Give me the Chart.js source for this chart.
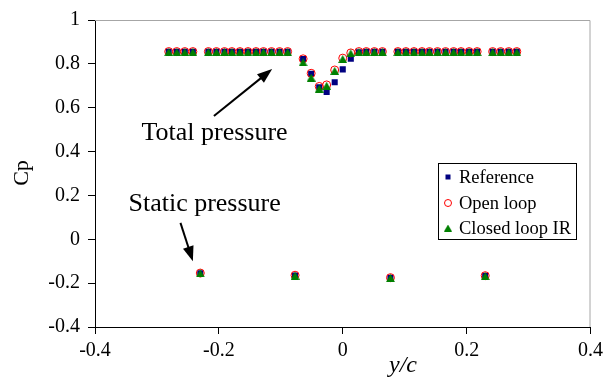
<!DOCTYPE html>
<html>
<head>
<meta charset="utf-8">
<script src="https://cdn.jsdelivr.net/npm/chart.js@4/dist/chart.umd.min.js"></script>
<style>
  html, body { margin: 0; padding: 0; background: #fff; }
</style>
</head>
<body>
<canvas id="cpChart" width="608" height="381"></canvas>
<script>
// spanwise probe stations (y/c) for the total pressure rake
const yOverC = [
  -0.281, -0.268, -0.255, -0.242,
  -0.217, -0.204, -0.191, -0.179, -0.166, -0.153, -0.140, -0.128, -0.115, -0.102, -0.089,
  -0.064, -0.051, -0.038, -0.026, -0.013, 0.000, 0.013, 0.026, 0.038, 0.051, 0.064,
  0.089, 0.102, 0.115, 0.128, 0.140, 0.153, 0.166, 0.179, 0.191, 0.204, 0.217,
  0.242, 0.255, 0.268, 0.281
];
const cpTotalReference = [
  0.855, 0.855, 0.855, 0.855,
  0.855, 0.855, 0.855, 0.855, 0.855, 0.855, 0.855, 0.855, 0.855, 0.855, 0.855,
  0.822, 0.755, 0.693, 0.672, 0.716, 0.775, 0.824, 0.853, 0.855, 0.855, 0.855,
  0.855, 0.855, 0.855, 0.855, 0.855, 0.855, 0.855, 0.855, 0.855, 0.855, 0.855,
  0.855, 0.855, 0.855, 0.855
];
const cpTotalOpenLoop = [
  0.856, 0.856, 0.856, 0.856,
  0.856, 0.856, 0.856, 0.856, 0.856, 0.856, 0.856, 0.856, 0.856, 0.856, 0.856,
  0.823, 0.757, 0.697, 0.704, 0.772, 0.826, 0.850, 0.856, 0.856, 0.856, 0.856,
  0.856, 0.856, 0.856, 0.856, 0.856, 0.856, 0.856, 0.856, 0.856, 0.856, 0.856,
  0.856, 0.856, 0.856, 0.856
];
const cpTotalClosedLoop = [
  0.853, 0.853, 0.853, 0.853,
  0.853, 0.853, 0.853, 0.853, 0.853, 0.853, 0.853, 0.853, 0.853, 0.853, 0.853,
  0.807, 0.737, 0.687, 0.700, 0.768, 0.822, 0.848, 0.853, 0.853, 0.853, 0.853,
  0.853, 0.853, 0.853, 0.853, 0.853, 0.853, 0.853, 0.853, 0.853, 0.853, 0.853,
  0.853, 0.853, 0.853, 0.853
];

// wall static taps
const staticYOverC = [-0.230, -0.077, 0.077, 0.230];
const cpStaticReference = [-0.155, -0.165, -0.176, -0.167];
const cpStaticOpenLoop = [-0.154, -0.164, -0.175, -0.166];
const cpStaticClosedLoop = [-0.156, -0.166, -0.177, -0.168];

const seriesNames = ['Reference', 'Open loop', 'Closed loop IR'];
const xTicks = [-0.4, -0.2, 0, 0.2, 0.4];
const yTicks = [-0.4, -0.2, 0, 0.2, 0.4, 0.6, 0.8, 1];

const FONT = "'Liberation Serif', 'Times New Roman', serif";

function points(xs, ys) {
  return xs.map((x, i) => ({ x: x, y: ys[i] }));
}

// triangle marker centred on its bounding box
function makeTriangle(w, h, color) {
  const c = document.createElement('canvas');
  c.width = w;
  c.height = h;
  const g = c.getContext('2d');
  g.fillStyle = color;
  g.beginPath();
  g.moveTo(w / 2, 0);
  g.lineTo(w, h);
  g.lineTo(0, h);
  g.closePath();
  g.fill();
  return c;
}

const triMarker = makeTriangle(9, 8, '#008000');
const triLegend = makeTriangle(8, 7, '#008000');

// labels with arrows, in data coordinates
const notes = [
  { text: 'Total pressure', x: -0.207, y: 0.484, from: [-0.208, 0.562], to: [-0.114, 0.776] },
  { text: 'Static pressure', x: -0.223, y: 0.160, from: [-0.262, 0.075], to: [-0.242, -0.100] }
];

const annotate = {
  id: 'annotate',
  beforeDatasetsDraw(chart) {
    const { ctx, chartArea: a } = chart;
    ctx.save();
    // light frame on top and right of the plot area
    ctx.strokeStyle = '#a6a6a6';
    ctx.lineWidth = 1;
    ctx.beginPath();
    ctx.moveTo(a.left, a.top + 0.5);
    ctx.lineTo(a.right - 0.5, a.top + 0.5);
    ctx.lineTo(a.right - 0.5, a.bottom);
    ctx.stroke();
    ctx.restore();
  },
  afterDraw(chart) {
    const { ctx } = chart;
    const xs = chart.scales.x, ys = chart.scales.y;
    ctx.save();

    notes.forEach(n => {
      ctx.fillStyle = '#000';
      ctx.font = '26px ' + FONT;
      ctx.textAlign = 'center';
      ctx.textBaseline = 'middle';
      ctx.fillText(n.text, xs.getPixelForValue(n.x), ys.getPixelForValue(n.y));

      const x1 = xs.getPixelForValue(n.from[0]), y1 = ys.getPixelForValue(n.from[1]);
      const x2 = xs.getPixelForValue(n.to[0]), y2 = ys.getPixelForValue(n.to[1]);
      const ang = Math.atan2(y2 - y1, x2 - x1);
      const headLen = 15, headW = 5.5;
      ctx.strokeStyle = '#000';
      ctx.lineWidth = 2;
      ctx.beginPath();
      ctx.moveTo(x1, y1);
      ctx.lineTo(x2 - Math.cos(ang) * headLen * 0.8, y2 - Math.sin(ang) * headLen * 0.8);
      ctx.stroke();
      ctx.beginPath();
      ctx.moveTo(x2, y2);
      ctx.lineTo(x2 - Math.cos(ang) * headLen - Math.sin(ang) * headW,
                 y2 - Math.sin(ang) * headLen + Math.cos(ang) * headW);
      ctx.lineTo(x2 - Math.cos(ang) * headLen + Math.sin(ang) * headW,
                 y2 - Math.sin(ang) * headLen - Math.cos(ang) * headW);
      ctx.closePath();
      ctx.fill();
    });

    // axis titles
    ctx.font = '22px ' + FONT;
    ctx.textAlign = 'center';
    ctx.textBaseline = 'middle';
    ctx.save();
    ctx.translate(22, 173);
    ctx.rotate(-Math.PI / 2);
    ctx.fillText('Cp', 0, 0);
    ctx.restore();
    ctx.font = 'italic 24px ' + FONT;
    ctx.fillText('y/c', 403, 366);

    // legend box
    ctx.fillStyle = '#fff';
    ctx.fillRect(438, 163, 139, 77);
    ctx.strokeStyle = '#000';
    ctx.lineWidth = 1;
    ctx.strokeRect(438.5, 163.5, 138, 76);
    const rows = [177, 203, 228];
    ctx.font = '18.5px ' + FONT;
    ctx.textAlign = 'left';
    chart.data.datasets.forEach((ds, i) => {
      const y = rows[i];
      if (i === 0) {
        ctx.fillStyle = ds.backgroundColor;
        ctx.fillRect(445.5, y - 2.5, 5, 5);
      } else if (i === 1) {
        ctx.strokeStyle = ds.borderColor;
        ctx.beginPath();
        ctx.arc(448, y, 3.5, 0, Math.PI * 2);
        ctx.stroke();
      } else {
        ctx.drawImage(triLegend, 444, y - 3.5);
      }
      ctx.fillStyle = '#000';
      ctx.fillText(seriesNames[i], 459, y + 1);
    });
    ctx.restore();
  }
};

new Chart(document.getElementById('cpChart'), {
  type: 'scatter',
  data: {
    datasets: [
      {
        label: seriesNames[0],
        data: points(yOverC, cpTotalReference).concat(points(staticYOverC, cpStaticReference)),
        pointStyle: 'rect',
        pointRadius: 4.3,
        backgroundColor: '#000080',
        borderColor: '#000080',
        borderWidth: 0,
        order: 3
      },
      {
        label: seriesNames[1],
        data: points(yOverC, cpTotalOpenLoop).concat(points(staticYOverC, cpStaticOpenLoop)),
        pointStyle: 'circle',
        pointRadius: 4,
        backgroundColor: 'rgba(0,0,0,0)',
        borderColor: '#ff0000',
        borderWidth: 1,
        order: 2
      },
      {
        label: seriesNames[2],
        data: points(yOverC, cpTotalClosedLoop).concat(points(staticYOverC, cpStaticClosedLoop)),
        pointStyle: triMarker,
        pointRadius: 4.5,
        backgroundColor: '#008000',
        borderColor: '#008000',
        order: 1
      }
    ]
  },
  options: {
    responsive: false,
    animation: false,
    events: [],
    layout: { padding: { top: 10, right: 16, left: 0, bottom: 0 } },
    plugins: {
      legend: { display: false },
      tooltip: { enabled: false }
    },
    scales: {
      x: {
        type: 'linear',
        min: -0.4,
        max: 0.4,
        afterBuildTicks: s => { s.ticks = xTicks.map(v => ({ value: v })); },
        afterFit: s => { s.height = 54; },
        ticks: {
          color: '#000',
          font: { family: FONT, size: 20 },
          padding: 5,
          maxRotation: 0,
          callback: v => String(+v.toFixed(1))
        },
        grid: { drawOnChartArea: false, tickLength: 7, color: '#000' },
        border: { color: '#000', width: 1 }
      },
      y: {
        type: 'linear',
        min: -0.4,
        max: 1,
        afterBuildTicks: s => { s.ticks = yTicks.map(v => ({ value: v })); },
        afterFit: s => { s.width = 95; },
        ticks: {
          color: '#000',
          font: { family: FONT, size: 20 },
          padding: 8,
          callback: v => String(+v.toFixed(1))
        },
        grid: { drawOnChartArea: false, tickLength: 7, color: '#000' },
        border: { color: '#000', width: 1 }
      }
    }
  },
  plugins: [annotate]
});
</script>
</body>
</html>
